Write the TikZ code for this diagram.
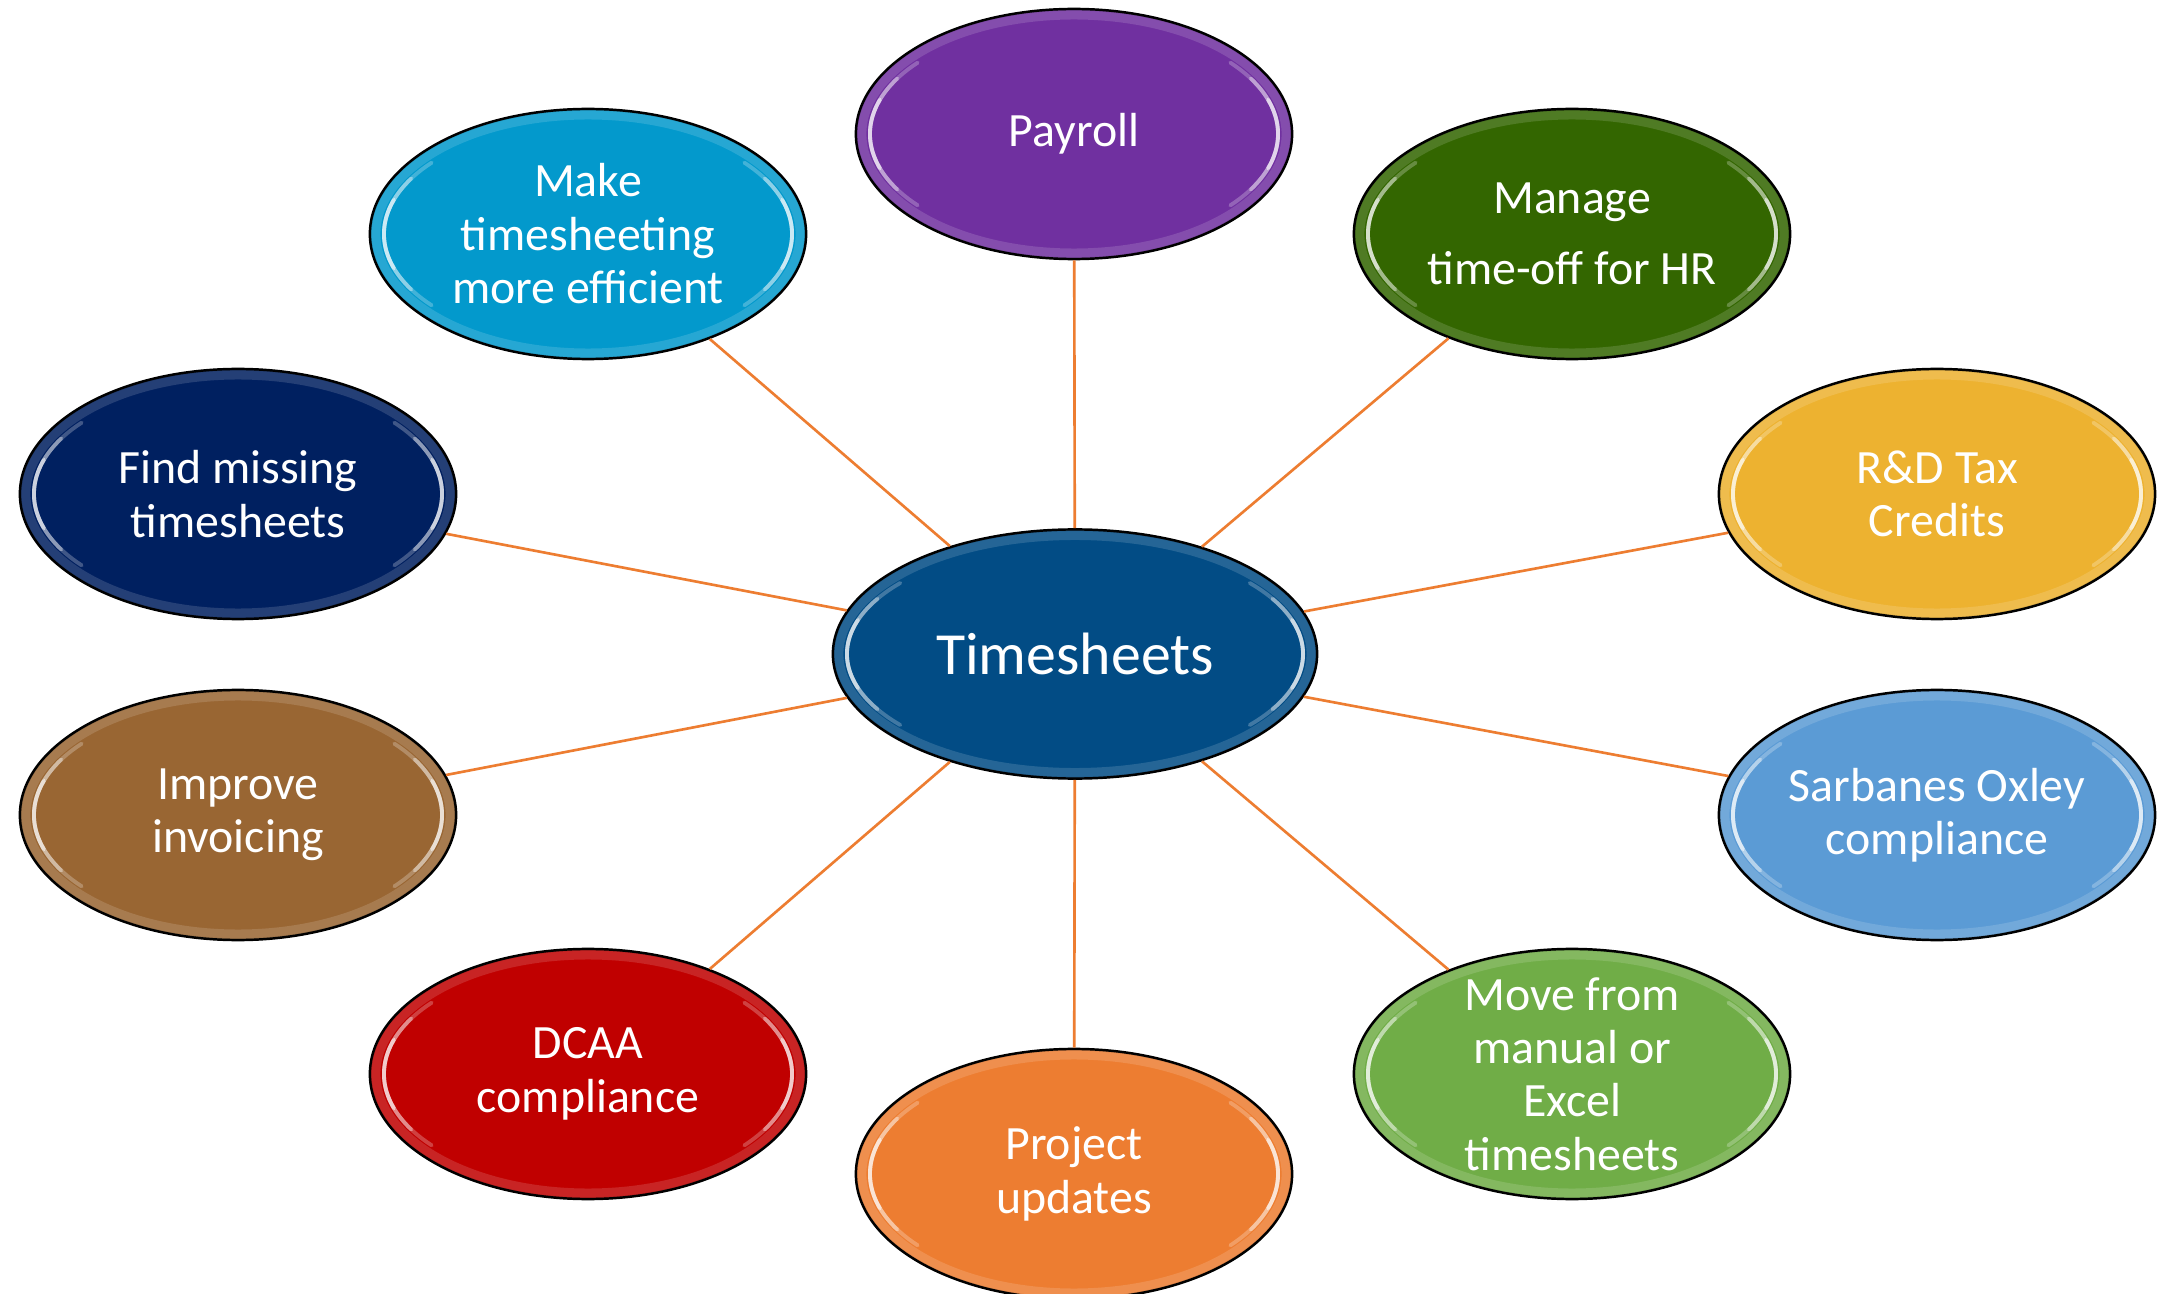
\documentclass[tikz,border=0pt]{standalone}
\usepackage{fontspec}
\setmainfont{Carlito}
\usetikzlibrary{shapes.geometric}
\definecolor{cPay}{HTML}{7030A0}
\definecolor{cMake}{HTML}{0399CC}
\definecolor{cMng}{HTML}{336600}
\definecolor{cFind}{HTML}{002060}
\definecolor{cRD}{HTML}{EDB230}
\definecolor{cImp}{HTML}{996633}
\definecolor{cSox}{HTML}{5B9BD5}
\definecolor{cDcaa}{HTML}{C00000}
\definecolor{cMove}{HTML}{70AD47}
\definecolor{cProj}{HTML}{ED7D31}
\definecolor{cHub}{HTML}{024C85}
\definecolor{cLine}{HTML}{ED7D31}
\newcommand\mybevel[2]{%
  \coordinate (pc) at (path picture bounding box.center);
  \pgfmathsetlengthmacro\rxa{#1-1.5pt}\pgfmathsetlengthmacro\rya{#2-1.5pt}%
  \pgfmathsetlengthmacro\rxb{#1-4pt}\pgfmathsetlengthmacro\ryb{#2-4pt}%
  \draw[white, opacity=.14, line width=3pt] (pc) ellipse [x radius=\rxa, y radius=\rya];
  \draw[black, opacity=.12, line width=1pt] (pc) ellipse [x radius=#1, y radius=#2];
  \foreach \a/\b/\o in {140/220/.25, 150/210/.4, 162/198/.55, -40/40/.25, -30/30/.4, -18/18/.55}{
    \draw[white, opacity=\o, line width=1.1pt, line cap=round] (pc) ++(\a:{\rxb} and {\ryb})
      arc[start angle=\a, end angle=\b, x radius=\rxb, y radius=\ryb];
  }
}
\tikzset{
  basebub/.style={ellipse, draw=black, line width=0.7pt, inner sep=0pt},
  sat/.style={basebub, minimum width=4.36cm, minimum height=2.5cm, fill=#1,
    path picture={\mybevel{2.18cm}{1.25cm}}},
  hub/.style={basebub, minimum width=4.84cm, minimum height=2.49cm, fill=cHub,
    path picture={\mybevel{2.42cm}{1.245cm}}},
  lbl/.style={text=white, align=center, inner sep=0pt, font=\fontsize{13.6}{15.2}\selectfont},
  hublbl/.style={lbl, font=\fontsize{17}{20}\selectfont},
  conn/.style={draw=cLine, line width=0.75pt},
}
\begin{document}
\begin{tikzpicture}[x=0.01cm, y=-0.01cm]
\fill[white] (0,0) rectangle (2165,1294);
\useasboundingbox (0,0) rectangle (2165,1294);

\node[hub] (hub) at (1075,654) {};
\node[sat=cPay]  (pay)  at (1074,134)  {};
\node[sat=cProj] (proj) at (1074,1174) {};
\node[sat=cMake] (make) at (588,234)   {};
\node[sat=cMng]  (mng)  at (1572,234)  {};
\node[sat=cFind] (find) at (238,494)   {};
\node[sat=cRD]   (rd)   at (1937,494)  {};
\node[sat=cImp]  (imp)  at (238,815)   {};
\node[sat=cSox]  (sox)  at (1937,815)  {};
\node[sat=cDcaa] (dcaa) at (588,1074)  {};
\node[sat=cMove] (move) at (1572,1074) {};

\foreach \n in {pay,proj,make,mng,find,rd,imp,sox,dcaa,move}{
  \draw[conn] (hub) -- (\n);
}

\node[hublbl] (hubT) at (hub.center) {Timesheets};
\node[lbl] (payT)  at (pay.center)  {Payroll};
\node[lbl] (projT) at (proj.center) {Project\\updates};
\node[lbl] (makeT) at (make.center) {Make\\timesheeting\\more efficient};
\node[lbl] (mngT)  at (mng.center)  {Manage\\[5pt]time-off for HR};
\node[lbl] (findT) at (find.center) {Find missing\\timesheets};
\node[lbl] (rdT)   at (rd.center)   {R\&D Tax\\Credits};
\node[lbl] (impT)  at (imp.center)  {Improve\\invoicing};
\node[lbl] (soxT)  at (sox.center)  {Sarbanes Oxley\\compliance};
\node[lbl] (dcaaT) at (dcaa.center) {DCAA\\compliance};
\node[lbl] (moveT) at (move.center) {Move from\\manual or\\Excel\\timesheets};
\end{tikzpicture}
\end{document}
